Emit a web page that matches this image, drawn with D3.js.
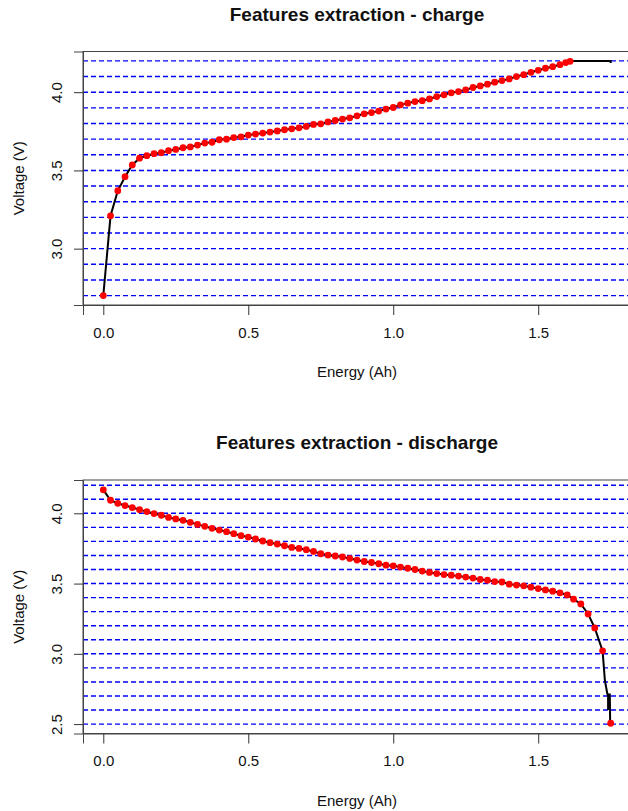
<!DOCTYPE html>
<html lang="en">
<head>
  <meta charset="UTF-8" />
  <title>Features extraction</title>
  <script src="https://d3js.org/d3.v7.min.js"></script>
  <style>
    body { margin: 0; background: white; }
    svg text { font-family: "Liberation Sans", Arial, sans-serif; fill: #111; }
  </style>
</head>
<body>
  <svg width="628" height="811"></svg>

  <script>
    const chargeEnergy = [0, 0.025, 0.05, 0.075, 0.1, 0.125, 0.15, 0.175, 0.2, 0.225,
      0.25, 0.275, 0.3, 0.325, 0.35, 0.375, 0.4, 0.425, 0.45, 0.475,
      0.5, 0.525, 0.55, 0.575, 0.6, 0.625, 0.65, 0.675, 0.7, 0.725,
      0.75, 0.775, 0.8, 0.825, 0.85, 0.875, 0.9, 0.925, 0.95, 0.975,
      1.0, 1.025, 1.05, 1.075, 1.1, 1.125, 1.15, 1.175, 1.2, 1.225,
      1.25, 1.275, 1.3, 1.325, 1.35, 1.375, 1.4, 1.425, 1.45, 1.475,
      1.5, 1.525, 1.55, 1.575, 1.595, 1.61];
    const chargeVoltage = [2.70, 3.21, 3.37, 3.46, 3.535, 3.578, 3.594, 3.607, 3.613, 3.626,
      3.634, 3.645, 3.65, 3.662, 3.675, 3.68, 3.696, 3.70, 3.71, 3.715,
      3.726, 3.732, 3.739, 3.745, 3.752, 3.76, 3.766, 3.772, 3.781, 3.794,
      3.798, 3.81, 3.819, 3.828, 3.836, 3.849, 3.862, 3.87, 3.879, 3.892,
      3.902, 3.919, 3.93, 3.94, 3.946, 3.957, 3.972, 3.983, 3.996, 4.004,
      4.015, 4.03, 4.04, 4.051, 4.064, 4.074, 4.085, 4.10, 4.112, 4.127,
      4.14, 4.153, 4.163, 4.176, 4.189, 4.197];
    // charge: end of the raw curve (constant voltage phase)
    const chargeTailEnergy = [1.61, 1.62, 1.75, 1.75];
    const chargeTailVoltage = [4.197, 4.2, 4.2, 4.186];
    const chargeLevels = [2.7, 2.8, 2.9, 3.0, 3.1, 3.2, 3.3, 3.4, 3.5, 3.6, 3.7, 3.8, 3.9, 4.0, 4.1, 4.2];

    // discharge
    const dischargeEnergy = [0, 0.025, 0.05, 0.075, 0.1, 0.125, 0.15, 0.175, 0.2, 0.225,
      0.25, 0.275, 0.3, 0.325, 0.35, 0.375, 0.4, 0.425, 0.45, 0.475,
      0.5, 0.525, 0.55, 0.575, 0.6, 0.625, 0.65, 0.675, 0.7, 0.725,
      0.75, 0.775, 0.8, 0.825, 0.85, 0.875, 0.9, 0.925, 0.95, 0.975,
      1.0, 1.025, 1.05, 1.075, 1.1, 1.125, 1.15, 1.175, 1.2, 1.225,
      1.25, 1.275, 1.3, 1.325, 1.35, 1.375, 1.4, 1.425, 1.45, 1.475,
      1.5, 1.525, 1.55, 1.575, 1.6, 1.622, 1.647, 1.672, 1.695, 1.722, 1.75];
    const dischargeVoltage = [4.167, 4.093, 4.071, 4.055, 4.041, 4.026, 4.012, 3.998, 3.986, 3.971,
      3.96, 3.95, 3.936, 3.921, 3.907, 3.893, 3.881, 3.869, 3.855, 3.841,
      3.831, 3.817, 3.803, 3.791, 3.781, 3.769, 3.757, 3.75, 3.741, 3.729,
      3.712, 3.703, 3.696, 3.689, 3.679, 3.667, 3.657, 3.65, 3.641, 3.631,
      3.626, 3.617, 3.609, 3.6, 3.589, 3.579, 3.571, 3.564, 3.56, 3.553,
      3.546, 3.539, 3.529, 3.524, 3.514, 3.511, 3.496, 3.489, 3.484, 3.474,
      3.464, 3.455, 3.446, 3.434, 3.419, 3.389, 3.355, 3.284, 3.184, 3.021, 2.506];
    // discharge: raw curve near the cut-off (drawn as line only)
    const dischargeTailEnergy = [1.722, 1.730, 1.738, 1.741, 1.741, 1.745, 1.747, 1.748, 1.75];
    const dischargeTailVoltage = [3.021, 2.81, 2.72, 2.70, 2.60, 2.71, 2.71, 2.52, 2.506];
    const dischargeLevels = [2.5, 2.6, 2.7, 2.8, 2.9, 3.0, 3.1, 3.2, 3.3, 3.4, 3.5, 3.6, 3.7, 3.8, 3.9, 4.0, 4.1, 4.2];

    const xTicks = [0, 0.5, 1.0, 1.5];
    const yTicks = [2.5, 3.0, 3.5, 4.0];

    const svg = d3.select("svg");

    function drawPanel(opts) {
      const { title, top, bottom, yDomain, energy, voltage, tailE, tailV, tailAfter, levels } = opts;
      const left = 83, right = 631;

      const x = d3.scaleLinear().domain([-0.07, 1.82]).range([left, right]);
      const y = d3.scaleLinear().domain(yDomain).range([bottom, top]);

      const g = svg.append("g");

      // dashed level lines
      g.selectAll(".level")
        .data(levels)
        .enter()
        .append("line")
        .attr("x1", left)
        .attr("x2", right)
        .attr("y1", d => y(d))
        .attr("y2", d => y(d))
        .attr("stroke", "blue")
        .attr("stroke-width", 1.4)
        .attr("stroke-dasharray", "5,3");

      // raw curve
      let pts = energy.map((e, i) => [e, voltage[i]]);
      const tail = tailE.map((e, i) => [e, tailV[i]]);
      if (tailAfter) pts = pts.slice(0, -1).concat(tail);
      else pts = pts.concat(tail);

      g.append("path")
        .datum(pts)
        .attr("fill", "none")
        .attr("stroke", "black")
        .attr("stroke-width", 2)
        .attr("d", d3.line().x(d => x(d[0])).y(d => y(d[1])));

      // extracted features
      g.selectAll(".pt")
        .data(energy)
        .enter()
        .append("circle")
        .attr("cx", d => x(d))
        .attr("cy", (d, i) => y(voltage[i]))
        .attr("r", 3.4)
        .attr("fill", "red");

      // box
      g.append("rect")
        .attr("x", left)
        .attr("y", top)
        .attr("width", right - left)
        .attr("height", bottom - top)
        .attr("fill", "none")
        .attr("stroke", "#444")
        .attr("stroke-width", 1);

      // axes
      const xAxis = g.append("g")
        .attr("transform", `translate(0,${bottom})`)
        .call(d3.axisBottom(x).tickValues(xTicks).tickFormat(d3.format(".1f")).tickSize(10).tickPadding(12));
      const yAxis = g.append("g")
        .attr("transform", `translate(${left},0)`)
        .call(d3.axisLeft(y).tickValues(yTicks.filter(t => t >= yDomain[0] && t <= yDomain[1]))
          .tickFormat(d3.format(".1f")).tickSize(9).tickPadding(6));

      [xAxis, yAxis].forEach(a => {
        a.select(".domain").attr("stroke", "#444");
        a.selectAll(".tick line").attr("stroke", "#333");
        a.selectAll("text").style("font-size", "15px").attr("fill", "#111");
      });

      xAxis.selectAll("text").attr("dy", "0.71em");
      yAxis.selectAll(".tick text")
        .attr("x", null)
        .attr("dy", null)
        .attr("text-anchor", "middle")
        .attr("transform", "translate(-21,0) rotate(-90)");

      // labels
      g.append("text")
        .attr("x", (left + right) / 2)
        .attr("y", top - 31)
        .attr("text-anchor", "middle")
        .style("font-size", "19px")
        .style("font-weight", "bold")
        .text(title);

      g.append("text")
        .attr("x", (left + right) / 2)
        .attr("y", bottom + 72)
        .attr("text-anchor", "middle")
        .style("font-size", "15px")
        .text("Energy (Ah)");

      g.append("text")
        .attr("transform", `translate(24,${(top + bottom) / 2}) rotate(-90)`)
        .attr("text-anchor", "middle")
        .style("font-size", "15px")
        .text("Voltage (V)");
    }

    drawPanel({
      title: "Features extraction - charge",
      top: 51.5, bottom: 305,
      yDomain: [2.64, 4.26],
      energy: chargeEnergy, voltage: chargeVoltage,
      tailE: chargeTailEnergy, tailV: chargeTailVoltage, tailAfter: false,
      levels: chargeLevels
    });

    drawPanel({
      title: "Features extraction - discharge",
      top: 480, bottom: 733.5,
      yDomain: [2.433, 4.237],
      energy: dischargeEnergy, voltage: dischargeVoltage,
      tailE: dischargeTailEnergy, tailV: dischargeTailVoltage, tailAfter: true,
      levels: dischargeLevels
    });
  </script>
</body>
</html>
